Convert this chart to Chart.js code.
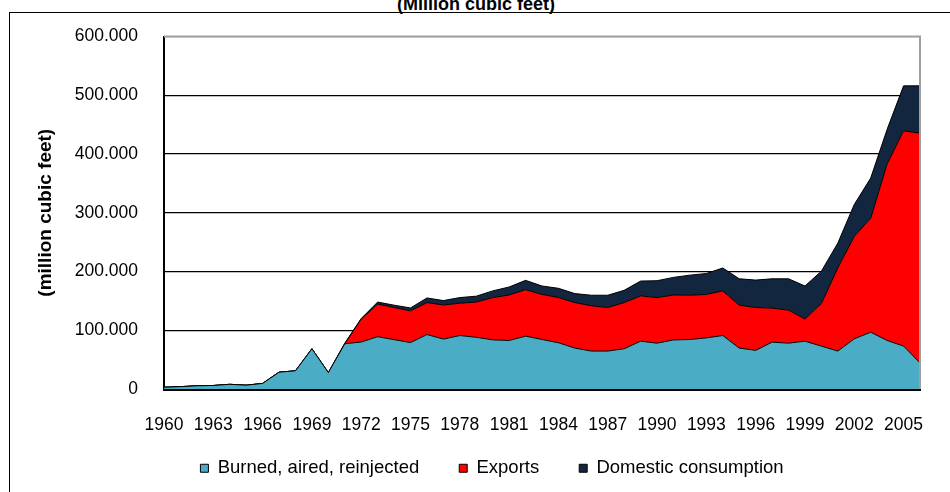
<!DOCTYPE html>
<html>
<head>
<meta charset="utf-8">
<script src="https://cdn.jsdelivr.net/npm/chart.js@4"></script>
<style>
  html, body { margin: 0; padding: 0; background: #fff; overflow: hidden; }
  #wrap { position: relative; width: 950px; height: 492px; }
  #box { position: absolute; left: 9px; top: 12px; width: 1000px; height: 600px; border: 1px solid #000; }
  #title { position: absolute; left: 0; width: 952px; top: -5px; text-align: center;
           font: bold 18px "Liberation Sans", Arial, sans-serif; line-height: 18px; color: #000; }
  canvas { position: absolute; left: 0; top: 0; }
</style>
</head>
<body>
<div id="wrap">
  <div id="box"></div>
  <div id="title">(Million cubic feet)</div>
  <canvas id="chart" width="950" height="492"></canvas>
</div>
<script>
const years = [];
for (let y = 1960; y <= 2006; y++) years.push(String(y));

const burned = [3, 4, 5.5, 6, 8, 6.5, 9.5, 28.6, 31, 68.5, 28,
  77, 80, 89, 84, 79, 92.7, 85, 91, 88, 83.7,
  82.6, 89.9, 84.3, 78.7, 69.7, 64.6, 64.6, 68.5, 81.4, 78,
  83.5, 84.3, 87, 91, 69.7, 65.7, 79.8, 78, 81.4, 73,
  64.6, 85.4, 96.6, 82.6, 73, 44.4];

const exportsData = [0, 0, 0, 0, 0, 0, 0, 0, 0, 0, 0,
  0, 39, 55.4, 54.7, 54, 54.3, 58, 55, 60, 71.9,
  77.4, 79.1, 76.7, 76.9, 77.3, 77, 74.1, 78.5, 77, 77.6,
  76.5, 75.3, 74, 75.9, 73, 73, 57.9, 56.3, 37.6, 72.5,
  141.4, 174.2, 193.8, 300.4, 366.4, 391];

const domestic = [0, 0, 0, 0, 0, 0, 0, 0, 0, 0, 0,
  1, 1, 3.6, 4, 5, 8, 7.5, 9.6, 10, 11.4,
  13.6, 15.9, 14.3, 15.8, 15.4, 18, 20.9, 21, 25.3, 28.7,
  30, 34.2, 35.6, 39.1, 44.9, 46.7, 49.9, 53.3, 56.3, 55.1,
  42.3, 54.4, 68.6, 59, 76.6, 80.6];

const seriesNames = ['Burned, aired, reinjected', 'Exports', 'Domestic consumption'];

const font = '"Liberation Sans", Arial, sans-serif';

// gray frame on top and right of plot area
const plotFrame = {
  id: 'plotFrame',
  afterDatasetsDraw(chart) {
    const a = chart.chartArea, ctx = chart.ctx;
    ctx.save();
    ctx.strokeStyle = '#a0a0a0';
    ctx.lineWidth = 2;
    ctx.beginPath();
    ctx.moveTo(a.left, a.top);
    ctx.lineTo(a.right, a.top);
    ctx.lineTo(a.right, a.bottom);
    ctx.stroke();
    ctx.restore();
  }
};

// pull the legend up closer to the axis labels (keeps wide item spacing)
const legendShift = {
  id: 'legendShift',
  afterLayout(chart) {
    const l = chart.legend;
    const d = (chart.chartArea.bottom + 30) - l.top;
    l.top += d;
    l.bottom = chart.height;
    l.height = l.bottom - l.top;
    l.legendHitBoxes.forEach(h => { h.top += d; });
  }
};

new Chart(document.getElementById('chart'), {
  type: 'line',
  data: {
    labels: years,
    datasets: [
      { label: seriesNames[0], data: burned, backgroundColor: '#4BACC6', borderColor: '#000', borderWidth: 1, fill: 'origin' },
      { label: seriesNames[1], data: exportsData, backgroundColor: '#FF0000', borderColor: '#000', borderWidth: 1, fill: '-1' },
      { label: seriesNames[2], data: domestic, backgroundColor: '#13263F', borderColor: '#000', borderWidth: 1, fill: '-1' }
    ]
  },
  options: {
    responsive: false,
    animation: false,
    layout: { padding: { left: 34, right: 0, top: 33, bottom: 8 } },
    elements: { point: { radius: 0 }, line: { tension: 0 } },
    plugins: {
      tooltip: { enabled: false },
      legend: {
        position: 'bottom',
        maxHeight: 40,
        labels: {
          font: { family: font, size: 18.5 },
          color: '#000',
          boxWidth: 8,
          boxHeight: 8,
          padding: 40
        }
      }
    },
    scales: {
      x: {
        offset: false,
        grid: { display: false },
        border: { color: '#000', width: 3 },
        ticks: {
          autoSkip: false,
          maxRotation: 0,
          padding: 18,
          color: '#000',
          font: { family: font, size: 17.5 },
          callback: function (v, i) { return (i % 3 === 0) ? years[i] : ''; }
        },
        afterFit(s) { s.height = 55; }
      },
      y: {
        stacked: true,
        min: 0,
        max: 600,
        grid: {
          color: (c) => (c.tick && c.tick.value === 600) ? '#a0a0a0' : '#000',
          lineWidth: 1.3,
          drawTicks: false
        },
        border: { color: '#000', width: 2 },
        ticks: {
          stepSize: 100,
          padding: 26,
          color: '#000',
          font: { family: font, size: 17.5 },
          callback: (v) => v === 0 ? '0' : v.toFixed(3)
        },
        title: {
          display: true,
          text: '(million cubic feet)',
          color: '#000',
          font: { family: font, size: 19, weight: 'bold' },
          padding: { top: 0, bottom: 0 }
        },
        afterFit(s) { s.width = 130; }
      },
      y2: {
        position: 'right',
        display: true,
        grid: { display: false },
        border: { display: false },
        ticks: { display: false },
        afterFit(s) { s.width = 30; }
      }
    }
  },
  plugins: [plotFrame, legendShift]
});
</script>
</body>
</html>
